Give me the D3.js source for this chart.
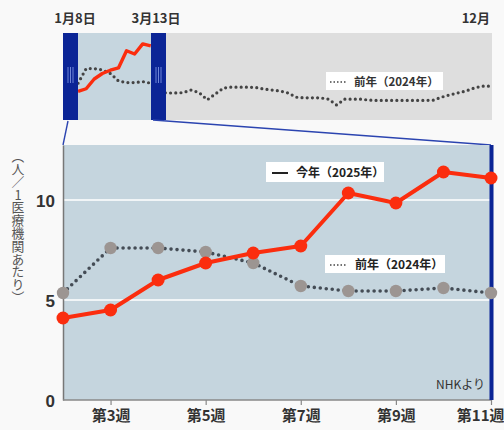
<!DOCTYPE html>
<html>
<head>
<meta charset="utf-8">
<script src="https://cdn.jsdelivr.net/npm/d3@7"></script>
<style>
  html, body { margin: 0; padding: 0; background: #f9f9f9; }
  svg { display: block; font-family: "Noto Sans CJK JP", "Noto Sans", sans-serif; }
</style>
</head>
<body>
<svg id="chart" width="504" height="430"></svg>
<script>
// weeks shown in the zoomed panel
const weeks = [2, 3, 4, 5, 6, 7, 8, 9, 10, 11];
const thisYear = [4.1, 4.5, 6.0, 6.85, 7.35, 7.7, 10.35, 9.85, 11.4, 11.1];   // 2025
const lastYear = [5.35, 7.6, 7.6, 7.4, 6.85, 5.7, 5.45, 5.45, 5.6, 5.35];    // 2024
// rest of 2024 (weeks 12..53) for the overview strip
const lastYearRest = [4.0, 3.85, 3.85, 3.9, 4.3, 3.9, 2.8, 3.7, 4.6, 4.75, 4.75, 4.75,
  4.7, 4.45, 4.3, 4.15, 3.85, 3.2, 3.1, 3.1, 3.1, 2.9, 2.0, 2.9, 2.9, 2.9, 2.75, 2.7,
  2.7, 2.7, 2.7, 2.7, 2.7, 2.7, 2.75, 3.2, 3.55, 3.85, 4.15, 4.6, 4.9, 4.9];
const yTicks = [0, 5, 10];
const xTicks = [3, 5, 7, 9, 11];
const topLabels = ["1月8日", "3月13日", "12月"];

const svg = d3.select("#chart");
const red = "#fb2d0e", dotCol = "#444c55", grayPt = "#9c9592", navy = "#0b2596";

// ---------- overview strip ----------
const mini = { left: 63, right: 492, top: 33, bottom: 120 };
const mx = d3.scaleLinear().domain([1, 53]).range([70, 490]);
const my = d3.scaleLinear().domain([0, 13]).range([118, 33.5]);

svg.append("rect").attr("x", 166).attr("y", mini.top)
  .attr("width", mini.right - 166).attr("height", mini.bottom - mini.top).attr("fill", "#dedede");
svg.append("rect").attr("x", 78).attr("y", mini.top)
  .attr("width", 151 - 78).attr("height", mini.bottom - mini.top).attr("fill", "#c6d6df");

const yearSeries = weeks.map((w, i) => ({ w: w, v: lastYear[i] }))
  .concat(lastYearRest.map((v, i) => ({ w: 12 + i, v: v })));

const miniLine = d3.line().x(d => mx(d.w)).y(d => my(d.v));
svg.append("path").datum(yearSeries)
  .attr("d", miniLine).attr("fill", "none")
  .attr("stroke", "#444").attr("stroke-width", 3.2)
  .attr("stroke-linecap", "round").attr("stroke-dasharray", "0 5.2");

svg.append("path").datum(weeks.map((w, i) => ({ w: w, v: thisYear[i] })))
  .attr("d", miniLine).attr("fill", "none")
  .attr("stroke", red).attr("stroke-width", 3.4).attr("stroke-linejoin", "round");

// handles
[[63, 78], [151, 166]].forEach(function (b) {
  svg.append("rect").attr("x", b[0]).attr("y", mini.top)
    .attr("width", b[1] - b[0]).attr("height", mini.bottom - mini.top).attr("fill", navy);
  [-2.5, 0, 2.5].forEach(function (dx) {
    const cx = (b[0] + b[1]) / 2 + dx;
    svg.append("line").attr("x1", cx).attr("x2", cx).attr("y1", 67).attr("y2", 83)
      .attr("stroke", "#6f86d8").attr("stroke-width", 1);
  });
});

// mini legend
const ml = svg.append("g").attr("transform", "translate(326,72)");
ml.append("rect").attr("width", 117).attr("height", 18).attr("fill", "#fff");
ml.append("line").attr("x1", 4).attr("x2", 20).attr("y1", 10).attr("y2", 10)
  .attr("stroke", "#444").attr("stroke-width", 1.6).attr("stroke-dasharray", "1.5 2");
ml.append("text").attr("x", 28).attr("y", 14).attr("font-size", 11.5).attr("font-weight", "bold")
  .attr("fill", "#333").text("前年（2024年）");

// top labels
const topText = svg.append("g").attr("font-size", 13).attr("font-weight", "bold").attr("fill", "#333");
topText.append("text").attr("x", 75).attr("y", 23).attr("text-anchor", "middle").text(topLabels[0]);
topText.append("text").attr("x", 156).attr("y", 23).attr("text-anchor", "middle").text(topLabels[1]);
topText.append("text").attr("x", 490).attr("y", 23).attr("text-anchor", "end").text(topLabels[2]);

// ---------- main panel ----------
const m = { left: 63, right: 491, top: 145, bottom: 400 };
const x = d3.scaleLinear().domain([2, 11]).range([m.left, m.right]);
const y = d3.scaleLinear().domain([0, 12.75]).range([m.bottom, m.top]);

// connector lines
svg.append("line").attr("x1", 68).attr("y1", 121).attr("x2", m.left).attr("y2", m.top)
  .attr("stroke", "#2b44b0").attr("stroke-width", 1.4);
svg.append("line").attr("x1", 153).attr("y1", 120).attr("x2", m.right).attr("y2", m.top)
  .attr("stroke", "#2b44b0").attr("stroke-width", 1.4);

svg.append("rect").attr("x", m.left).attr("y", m.top)
  .attr("width", m.right - m.left).attr("height", m.bottom - m.top).attr("fill", "#c5d5de");

svg.append("g").selectAll("line").data(yTicks.filter(d => d > 0)).join("line")
  .attr("x1", m.left).attr("x2", m.right)
  .attr("y1", d => y(d)).attr("y2", d => y(d))
  .attr("stroke", "#fff").attr("stroke-width", 1.5);

// axes
const yAxis = svg.append("g").attr("transform", `translate(${m.left},0)`)
  .call(d3.axisLeft(y).tickValues(yTicks).tickSize(0).tickPadding(8));
yAxis.select(".domain").attr("stroke", "#777").attr("stroke-width", 1.5);
yAxis.selectAll("text").attr("font-size", 17).attr("font-weight", "bold").attr("fill", "#333")
  .attr("font-family", "Liberation Sans, sans-serif").attr("dy", "0.36em");

const xAxis = svg.append("g").attr("transform", `translate(0,${m.bottom})`)
  .call(d3.axisBottom(x).tickValues(xTicks).tickSize(5).tickPadding(5).tickFormat(d => "第" + d + "週"));
xAxis.select(".domain").attr("stroke", "#888").attr("stroke-width", 1.5)
  .attr("d", `M${m.left},0H${m.right}`);
xAxis.selectAll(".tick line").attr("stroke", "#888").attr("stroke-width", 1.2);
xAxis.selectAll("text").attr("font-size", 15).attr("font-weight", "bold").attr("fill", "#333")
  .attr("font-family", "Noto Sans CJK JP, sans-serif");
xAxis.selectAll(".tick text").filter(d => d === 11).attr("text-anchor", "end").attr("dx", 13);

// right edge bar
svg.append("rect").attr("x", m.right - 1.5).attr("y", m.top)
  .attr("width", 4).attr("height", m.bottom - m.top).attr("fill", navy);

// y axis title (vertical, upright glyphs)
svg.append("text").attr("x", 18).attr("y", 150)
  .style("writing-mode", "vertical-rl").style("text-orientation", "upright")
  .attr("font-size", 12.8).attr("fill", "#555")
  .text("（人／1医療機関あたり）");

// 2024 dotted series
const line = d3.line().x(d => x(d.w)).y(d => y(d.v));
const prev = weeks.map((w, i) => ({ w: w, v: lastYear[i] }));
svg.append("path").datum(prev).attr("d", line).attr("fill", "none")
  .attr("stroke", dotCol).attr("stroke-width", 3.6)
  .attr("stroke-linecap", "round").attr("stroke-dasharray", "0 6");
svg.append("g").selectAll("circle").data(prev).join("circle")
  .attr("cx", d => x(d.w)).attr("cy", d => y(d.v)).attr("r", 6.2).attr("fill", grayPt);

// 2025 series
const cur = weeks.map((w, i) => ({ w: w, v: thisYear[i] }));
svg.append("path").datum(cur).attr("d", line).attr("fill", "none")
  .attr("stroke", red).attr("stroke-width", 4).attr("stroke-linejoin", "round");
svg.append("g").selectAll("circle").data(cur).join("circle")
  .attr("cx", d => x(d.w)).attr("cy", d => y(d.v)).attr("r", 6.5).attr("fill", red);

// legends
const l1 = svg.append("g").attr("transform", "translate(266,162)");
l1.append("rect").attr("width", 118).attr("height", 20).attr("fill", "#fff");
l1.append("line").attr("x1", 6).attr("x2", 22).attr("y1", 11).attr("y2", 11)
  .attr("stroke", "#222").attr("stroke-width", 2);
l1.append("text").attr("x", 30).attr("y", 15).attr("font-size", 12).attr("font-weight", "bold")
  .attr("fill", "#222").text("今年（2025年）");

const l2 = svg.append("g").attr("transform", "translate(325,255)");
l2.append("rect").attr("width", 120).attr("height", 18).attr("fill", "#fff");
l2.append("line").attr("x1", 5).attr("x2", 21).attr("y1", 10).attr("y2", 10)
  .attr("stroke", "#444").attr("stroke-width", 1.6).attr("stroke-dasharray", "1.5 2");
l2.append("text").attr("x", 30).attr("y", 14).attr("font-size", 12).attr("font-weight", "bold")
  .attr("fill", "#222").text("前年（2024年）");

svg.append("text").attr("x", 485).attr("y", 389).attr("text-anchor", "end")
  .attr("font-size", 12).attr("fill", "#333").text("NHKより");
</script>
</body>
</html>
